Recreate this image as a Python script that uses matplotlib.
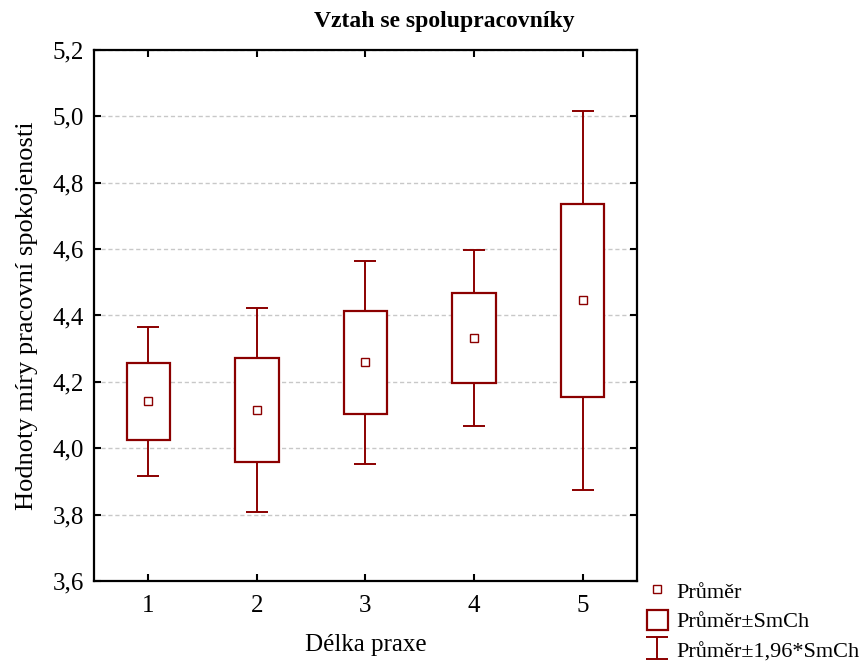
import matplotlib
matplotlib.use("Agg")
import matplotlib.pyplot as plt
from matplotlib.patches import Rectangle
from matplotlib.lines import Line2D
import numpy as np

plt.rcParams['font.family'] = ['Liberation Serif', 'DejaVu Serif']

# Data: mean and standard error per experience group
categories = [1, 2, 3, 4, 5]
means = [4.141, 4.115, 4.259, 4.333, 4.446]
std_errs = [0.115, 0.157, 0.156, 0.135, 0.291]
y_ticks = [3.6, 3.8, 4.0, 4.2, 4.4, 4.6, 4.8, 5.0, 5.2]
y_tick_labels = ["3,6", "3,8", "4,0", "4,2", "4,4", "4,6", "4,8", "5,0", "5,2"]

color = "#8b0000"

fig = plt.figure(figsize=(8.66, 6.63), dpi=100)
ax = fig.add_axes([0.1085, 0.1237, 0.6271, 0.8009])

x = np.array(categories, dtype=float)
m = np.array(means)
se = np.array(std_errs)

# whiskers: mean +/- 1.96*SE
eb = ax.errorbar(x, m, yerr=1.96 * se, fmt='none', ecolor=color, elinewidth=1.4,
                 capsize=8, capthick=1.4, zorder=2)
# boxes: mean +/- SE
ax.bar(x, 2 * se, bottom=m - se, width=0.4, facecolor='white', edgecolor=color,
       linewidth=1.6, zorder=3)
# mean markers
ax.plot(x, m, linestyle='none', marker='s', markersize=6, markerfacecolor='white',
        markeredgecolor=color, markeredgewidth=1, zorder=4)

ax.set_xlim(0.5, 5.5)
ax.set_ylim(3.6, 5.2)
ax.set_xticks(categories)
ax.set_xticklabels([str(c) for c in categories])
ax.set_yticks(y_ticks)
ax.set_yticklabels(y_tick_labels)
ax.tick_params(direction='in', top=True, right=True, length=5, width=1.5,
               labelsize=18)
ax.tick_params(axis='y', pad=7)
ax.tick_params(axis='x', pad=10)
for s in ax.spines.values():
    s.set_linewidth(1.6)

ax.yaxis.grid(True, color='#c8c8c8', linestyle=(0, (3, 2)), linewidth=1)
ax.set_axisbelow(True)

fig.text(0.513, 0.967, "Vztah se spolupracovníky", fontsize=17, fontweight='bold',
         ha='center', va='center')
ax.set_xlabel("Délka praxe", fontsize=18, labelpad=12)
ax.set_ylabel("Hodnoty míry pracovní spokojenosti", fontsize=19, labelpad=11)

h_mean = Line2D([], [], linestyle='none', marker='s', markersize=6,
                markerfacecolor='white', markeredgecolor=color, markeredgewidth=1)
h_box = Rectangle((0, 0), 1, 1, facecolor='white', edgecolor=color, linewidth=1.6)
fig.legend([h_mean, h_box, eb], ["Průměr", "Průměr±SmCh", "Průměr±1,96*SmCh"],
           loc='lower left', bbox_to_anchor=(0.744, -0.002), frameon=False,
           fontsize=16, handlelength=0.95, handleheight=1.0, handletextpad=0.4,
           labelspacing=0.32, borderpad=0.1, borderaxespad=0)

fig.savefig("out.png", dpi=100)
